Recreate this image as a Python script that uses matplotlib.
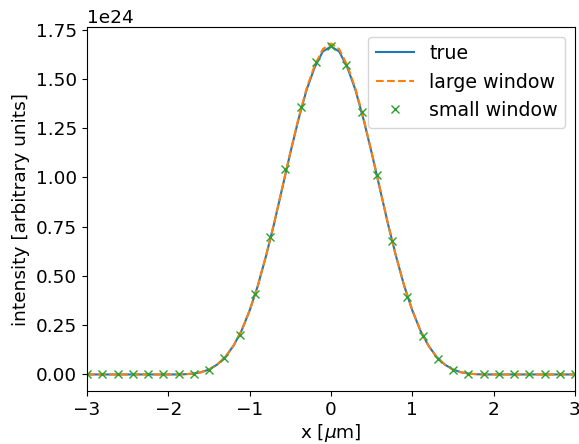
import numpy as np
import matplotlib
matplotlib.use("Agg")
import matplotlib.pyplot as plt

# line grid (um)
x_line = np.round(np.arange(-3.0, 3.0001, 0.1), 2)
# true intensity (1e24)
true_pos = [1.665, 1.640, 1.560, 1.445, 1.295, 1.125, 0.945, 0.765, 0.600, 0.450,
            0.325, 0.222, 0.145, 0.088, 0.050, 0.025, 0.011, 0.004, 0.001, 0.0,
            0.0, 0.0, 0.0, 0.0, 0.0, 0.0, 0.0, 0.0, 0.0, 0.0, 0.0]
true_vals = true_pos[:0:-1] + true_pos
large_pos = [1.680, 1.652, 1.570, 1.452, 1.300, 1.128, 0.947, 0.766, 0.600, 0.450,
             0.325, 0.222, 0.145, 0.088, 0.050, 0.025, 0.011, 0.004, 0.001, 0.0,
             0.0, 0.0, 0.0, 0.0, 0.0, 0.0, 0.0, 0.0, 0.0, 0.0, 0.0]
large_vals = large_pos[:0:-1] + large_pos

# small window samples
x_small = np.linspace(-3.0, 3.0, 33)
small_vals = [0.0, 0.0, 0.0, 0.0, 0.0, 0.0, 0.0, 0.004, 0.025, 0.083, 0.200,
              0.410, 0.700, 1.045, 1.357, 1.585, 1.668, 1.573, 1.334, 1.014,
              0.678, 0.395, 0.195, 0.080, 0.025, 0.004, 0.0, 0.0, 0.0, 0.0,
              0.0, 0.0, 0.0]

scale = 1e24
plt.rcParams['font.size'] = 13.3
fig = plt.figure(figsize=(5.79, 4.44), dpi=100)
ax = fig.add_axes([87/579, 1-391/444, (575-87)/579, (391-27)/444])
ax.plot(x_line, np.array(true_vals)*scale, color='C0', label='true')
ax.plot(x_line, np.array(large_vals)*scale, '--', color='C1', label='large window')
ax.plot(x_small, np.array(small_vals)*scale, 'x', color='C2', label='small window')
ax.set_xlim(-3, 3)
ax.set_xlabel(r'x [$\mu$m]', labelpad=2)
ax.set_ylabel('intensity [arbitrary units]')
ax.legend(loc='upper right', fontsize=13.7)
fig.savefig('out.png', dpi=100)
